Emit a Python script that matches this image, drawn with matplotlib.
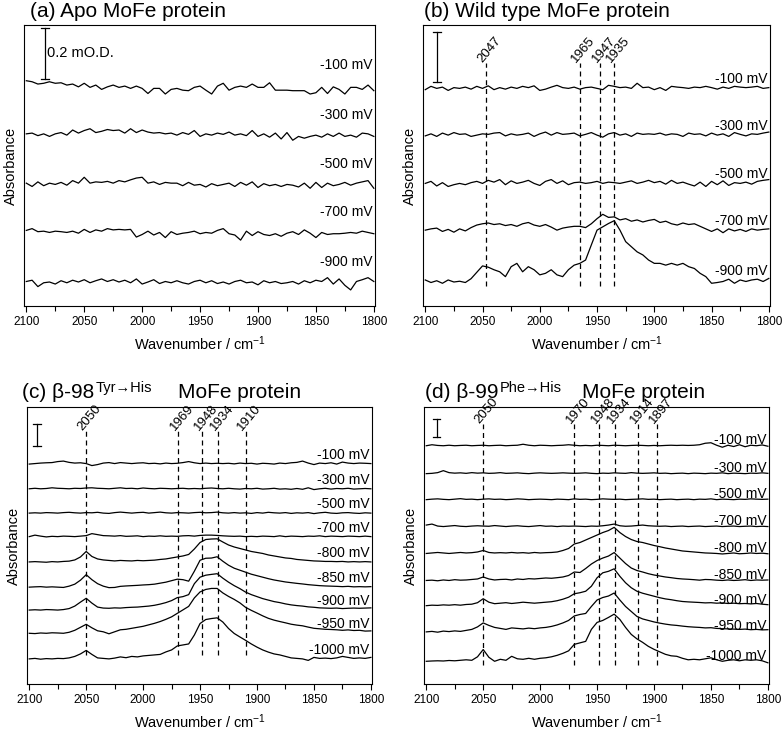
# IR difference spectra of MoFe proteins at several potentials (4 panels)

import numpy as np
import matplotlib
matplotlib.use('Agg')
import matplotlib.pyplot as plt

plt.rcParams['font.family'] = ['Liberation Sans', 'DejaVu Sans']
plt.rcParams['mathtext.fontset'] = 'custom'
plt.rcParams['mathtext.rm'] = 'Liberation Sans'
plt.rcParams['mathtext.it'] = 'Liberation Sans:italic'

# wavenumber grid, cm-1 (values below are read every 5 cm-1, from 2100 to 1800)
wn = np.arange(2100, 1799, -5)

# ---- (a) Apo MoFe protein, absorbance change in uOD
a_m100 = [17, 13, 4, 7, 13, 7, 9, 0, 4, -7,
          7, -9, 0, -17, -7, 0, -9, -4, -13, -4,
          -13, -33, -13, -13, -35, -17, -13, -20, -22, -9,
          -4, -20, -35, -4, 7, -20, -9, -4, -9, 4,
          -9, -9, 9, -20, -20, -20, -22, -22, -22, -35,
          -30, -9, -33, -7, -17, -35, -9, -9, -17, 0,
          -22]
a_m300 = [5, 8, -2, 5, -5, 5, 10, 0, 20, 8,
          18, 25, 10, 15, 22, 18, 20, 8, 25, 10,
          20, 12, 8, 10, 5, 8, 0, 10, 3, 18,
          -5, 5, 0, 8, 3, 12, 0, 5, -2, 18,
          -5, 5, -8, 8, -15, 10, -20, -5, -12, -5,
          0, -8, 5, -5, 8, -5, 0, -8, 8, 5,
          -5]
a_m500 = [5, -8, 10, -5, 5, 0, 8, -3, 15, 5,
          28, 5, 10, 8, 12, 5, 15, 10, 18, 25,
          28, 5, 10, 0, 8, 5, 5, -5, 8, -3,
          0, -10, 3, -5, 0, 5, -8, 8, -3, 10,
          -12, 3, -5, 0, -8, 0, -3, -10, 5, -15,
          8, -12, 5, -5, 0, 8, -3, 5, 10, 15,
          -15]
a_m700 = [8, 15, 3, 5, 0, 5, 3, 0, 5, -3,
          12, 0, 10, 5, 15, 10, 12, 10, 12, -18,
          -8, 5, -10, 0, -20, 3, -8, -3, 0, 5,
          -5, 0, -3, 8, 15, -5, -10, -30, 5, -12,
          3, -8, -12, -5, -15, -3, 3, -8, 10, -3,
          -20, 0, -8, -5, -5, -3, 0, -3, 5, 0,
          -5]
a_m900 = [5, 10, -15, 0, 3, -5, 8, 0, 10, 3,
          12, 0, 8, 15, 5, 12, 3, 10, 0, 15,
          -5, 3, 12, -3, 5, 0, 8, 0, -5, 5,
          10, 0, 8, -3, 3, -5, 5, 10, 0, 3,
          -8, 8, 0, 5, -3, 0, 5, -5, 8, 0,
          10, 5, 20, -5, 15, -10, -28, 5, 12, 20,
          5]

# ---- (b) Wild type MoFe protein
b_m100 = [-5, 8, 0, 5, -8, 3, 0, 5, -3, 8,
          0, 10, -5, 3, -3, 5, 0, 8, 3, 10,
          -8, -3, 5, 12, 3, 0, 5, -3, 3, 5,
          0, -5, 12, 8, 3, 5, 0, 20, 3, 5,
          -5, 3, -8, 8, 5, 3, 0, 5, 3, 8,
          3, -3, 5, 0, 8, 5, 3, 5, 8, 0,
          3]
b_m300 = [-3, 5, -5, 8, 0, 10, 3, 5, -5, 0,
          5, 3, 8, 10, -3, 5, 0, 3, 8, -5,
          5, 12, 0, 10, 3, 5, 8, -3, 3, 10,
          0, -8, 5, 10, 0, 5, -5, 8, 3, 5,
          3, 8, 0, 5, 3, -5, 8, 3, 5, -3,
          8, 0, 5, -5, 10, 3, -3, 5, 3, 8,
          12]
b_m500 = [0, 8, -10, 3, -12, -5, 0, -5, 3, 8,
          0, 12, 5, 15, -5, 10, 0, 5, 12, 0,
          -8, 8, 15, 0, 10, -5, 3, 5, 0, 3,
          8, 0, 5, 3, 0, 5, 10, 0, 5, 12,
          3, 8, -3, 12, 0, 5, -3, -10, 5, -12,
          8, -5, 10, -8, 3, 0, 5, -3, 8, 12,
          15]
b_m700 = [0, 5, 8, -5, 3, -8, 5, -3, 10, 20,
          25, 28, 22, 25, 18, 22, 15, 25, 30, 20,
          15, 22, 12, 0, 8, 12, 15, 15, 10, 25,
          45, 62, 50, 52, 40, 45, 35, 40, 32, 38,
          42, 30, 35, 25, 20, 28, 22, 25, 15, 5,
          -5, 5, -10, 5, -3, 3, -5, 5, 0, 3,
          5]
b_m900 = [0, -10, -3, -13, 0, -8, -5, -10, 5, 30,
          55, 50, 40, 32, 13, 52, 65, 32, 52, 40,
          20, 26, 40, 20, 13, 40, 58, 65, 78, 137,
          195, 208, 221, 232, 195, 150, 130, 110, 98, 78,
          65, 65, 58, 65, 58, 65, 52, 45, 26, 13,
          -13, -10, -6, 3, -13, 0, -6, 0, 3, -6,
          6]

# ---- (c) beta-98 Tyr->His MoFe protein
c_m100 = [-5, 0, 5, 8, 10, 20, 25, 12, 5, 8,
          0, -20, -10, 5, 10, 0, 10, 5, 0, 5,
          8, 0, 3, -3, 5, 0, 3, 10, 20, 8,
          0, 5, 0, 3, 0, 3, -3, 5, 0, 3,
          -5, 3, 0, -5, 5, 0, 8, 12, 25, 5,
          -10, 5, 0, 8, -5, 15, 5, 0, 5, 3,
          0]
c_m300 = [0, 5, 0, 3, 10, 5, 3, 0, 5, 3,
          8, 10, 5, 3, 0, 5, 10, 3, 5, 0,
          8, 3, 0, 5, 3, 0, 3, 5, 0, 3,
          0, 5, 8, 3, 0, 5, 0, -3, 3, 0,
          5, -3, 0, 5, -3, 0, -5, 3, -5, 10,
          -8, 0, 5, -3, 3, 0, 5, -3, 0, 3,
          0]
c_m500 = [0, 3, 0, 5, 3, 0, 5, 8, 3, 0,
          5, 3, 8, 0, -3, 5, 10, 5, 0, 5,
          8, 0, 5, 10, 3, 0, 5, 3, 0, 5,
          8, 3, 5, 10, 3, 0, 5, 0, 3, -3,
          5, 0, 8, 3, 0, 5, -3, 3, 0, 5,
          -5, 3, 8, 0, -3, 3, 5, 0, -3, 3,
          0]
c_m700 = [0, 15, 5, -3, 3, 0, 5, 3, 0, 5,
          10, 30, 20, 10, 8, 5, 10, 3, 5, 8,
          0, 5, 3, 8, 3, 5, 3, 8, 10, 5,
          12, 15, 15, 12, 8, 5, 3, 5, 0, 3,
          0, 5, 3, 0, 8, 0, 5, 3, 0, 5,
          3, 8, 0, 5, 3, 0, 5, 3, 0, 5,
          0]
c_m800 = [0, 3, 0, -3, 3, 0, 5, 8, 20, 50,
          105, 55, 30, 20, 15, 10, 15, 12, 10, 15,
          12, 15, 18, 25, 30, 40, 50, 60, 75, 130,
          195, 225, 230, 232, 200, 170, 150, 135, 120, 105,
          95, 85, 70, 60, 50, 40, 35, 25, 20, 15,
          10, 8, 5, 5, 3, 5, 0, 3, 0, 3,
          0]
c_m850 = [0, 3, 5, 0, 3, 0, -3, 10, 30, 70,
          125, 75, 35, 10, -5, -3, 8, 12, 15, 18,
          22, 25, 30, 40, 50, 65, 80, 75, 60, 160,
          270, 290, 292, 305, 260, 220, 190, 170, 150, 130,
          115, 100, 85, 72, 62, 52, 45, 38, 32, 25,
          20, 15, 12, 10, 8, 5, 8, 3, 5, 3,
          5]
c_m900 = [0, 3, 0, 5, 3, 0, 5, 15, 40, 80,
          118, 70, 30, 20, 18, 22, 20, 25, 28, 30,
          35, 40, 48, 60, 75, 95, 125, 135, 155, 265,
          330, 350, 358, 365, 320, 280, 245, 215, 180, 155,
          135, 115, 100, 85, 75, 62, 52, 45, 40, 32,
          28, 22, 20, 18, 20, 15, 18, 20, 18, 20,
          22]
c_m950 = [0, -3, 3, 0, 5, 3, 0, 10, 30, 60,
          90, 55, 25, 15, -5, 15, 35, 40, 50, 60,
          70, 85, 100, 118, 140, 165, 200, 235, 270, 355,
          415, 440, 450, 450, 405, 370, 340, 305, 260, 230,
          203, 175, 150, 132, 118, 105, 91, 82, 75, 62,
          50, 45, 40, 38, 35, 30, 34, 28, 30, 22,
          24]
c_m1000 = [0, 5, -3, 3, 0, 5, 3, 10, 25, 50,
           85, 45, 10, 5, 0, 8, 20, 12, 25, 20,
           30, 35, 40, 45, 70, 90, 130, 140, 150, 240,
           355, 395, 405, 412, 370, 305, 255, 220, 186, 150,
           118, 90, 68, 50, 40, 25, 10, 5, 0, -15,
           15, 5, 8, 3, 10, 25, 15, 5, 10, 5,
           15]

# ---- (d) beta-99 Phe->His MoFe protein
d_m100 = [0, 10, 3, 0, 5, 0, 3, 5, 0, 3,
          5, 0, 3, 5, 0, 3, 5, 15, 5, 0,
          5, 3, 0, 3, 5, 10, 5, 0, 3, 0,
          5, 3, 0, 5, 3, 0, 3, 5, 3, 0,
          3, 0, 3, 5, 3, 5, 3, 5, 10, 25,
          30, 5, -15, 5, -8, 10, -10, 5, 0, 8,
          -5]
d_m300 = [0, 3, 10, 30, 10, 5, 8, 3, 10, 5,
          8, 3, 5, 10, 3, 5, 8, 3, 0, 5,
          8, 5, 3, 5, 8, 5, 3, 5, 8, 3,
          0, 5, 3, 8, 5, 3, 10, 5, 3, 5,
          8, 3, 5, 0, 3, 5, 0, 5, 3, 0,
          5, 3, 8, 0, 5, 3, 0, 5, 3, 8,
          3]
d_m500 = [0, 5, 8, 3, 0, 5, 10, 3, 5, 0,
          5, 8, 3, 5, 0, 3, 8, 5, 0, 3,
          5, 3, 0, 5, 3, 0, 8, 3, 5, 0,
          3, 8, 5, 3, 5, 0, 3, 5, 8, 3,
          5, 0, 3, 5, 0, 3, 5, 0, 5, 3,
          8, 0, 5, 3, 0, 5, 3, 8, 5, 3,
          5]
d_m700 = [15, 25, 5, 0, 5, 10, 3, 0, 5, 8,
          5, 3, 10, 5, 0, 5, 8, 3, 0, 5,
          10, 3, 5, 0, 5, 3, 5, 3, 0, 5,
          3, 8, 15, 25, 8, 3, 5, 10, 15, 8,
          5, 3, 5, 0, 3, 5, 0, 3, 5, 0,
          3, 5, 0, 3, 5, 0, 3, 5, 0, 3,
          0]
d_m800 = [0, 5, 10, 5, 0, 5, 10, 5, 8, 15,
          30, 10, 5, 8, 5, 10, 5, 8, 3, 10,
          5, 8, 10, 15, 30, 50, 95, 110, 135, 160,
          185, 210, 230, 262, 210, 170, 140, 120, 110, 95,
          80, 68, 55, 45, 35, 25, 20, 15, 10, 5,
          3, 0, -5, 0, 5, -3, 0, 5, 0, 3,
          -3]
d_m850 = [0, 3, -3, 5, 0, 8, 3, 5, 10, 15,
          35, 15, 5, 10, 12, 5, 15, 10, 18, 15,
          20, 25, 22, 28, 35, 50, 85, 80, 120, 165,
          200, 225, 245, 280, 225, 170, 125, 100, 85, 68,
          55, 45, 35, 28, 20, 15, 12, 8, 3, 10,
          8, 3, 0, 5, 0, 3, 8, 0, 5, 3,
          5]
d_m900 = [0, 5, 3, 8, 5, 10, 5, 12, 15, 30,
          70, 35, 20, 25, 30, 22, 28, 35, 30, 25,
          30, 35, 40, 50, 65, 85, 120, 130, 145, 195,
          280, 330, 345, 370, 295, 230, 180, 145, 125, 110,
          95, 80, 68, 60, 50, 42, 38, 35, 32, 28,
          30, 25, 28, 22, 25, 20, 22, 18, 22, 15,
          10]
d_m950 = [0, 5, -3, 8, 3, 10, 5, 15, 25, 50,
          90, 65, 45, 35, 25, 40, 35, 30, 38, 32,
          40, 45, 55, 70, 90, 115, 160, 175, 185, 255,
          320, 345, 360, 390, 320, 255, 205, 155, 130, 115,
          100, 88, 78, 70, 65, 58, 52, 48, 45, 40,
          42, 35, 32, 30, 28, 25, 28, 22, 25, 20,
          22]
d_m1000 = [0, 3, 5, 3, 8, 5, 10, 15, 10, 45,
           118, 40, 0, 20, 10, 50, 25, 20, 30, 20,
           30, 35, 45, 60, 80, 105, 170, 185, 200, 320,
           390, 410, 440, 473, 420, 340, 270, 225, 190, 150,
           120, 95, 70, 55, 50, 30, 15, 20, 15, 25,
           35, 15, 0, 10, 15, 5, 15, 10, 15, 5,
           -15]

labels_ab = ['-100 mV', '-300 mV', '-500 mV', '-700 mV', '-900 mV']
labels_cd = ['-100 mV', '-300 mV', '-500 mV', '-700 mV', '-800 mV',
             '-850 mV', '-900 mV', '-950 mV', '-1000 mV']

peaks_b = [2047, 1965, 1947, 1935]
peaks_c = [2050, 1969, 1948, 1934, 1910]
peaks_d = [2050, 1970, 1948, 1934, 1914, 1897]


def draw_panel(ax, traces, labels, base, label_dy, ytop, bar_x, bar_y, peaks=None, span=None):
    for y, b, lab in zip(traces, base, labels):
        ax.plot(wn, np.array(y) + b, color='black', lw=0.9)
        ax.text(1801, b + label_dy, lab, ha='right', va='center', fontsize=10)

    # scale bar
    ax.plot([bar_x, bar_x], bar_y, color='black', lw=0.9)
    for yy in bar_y:
        ax.plot([bar_x + 3.5, bar_x - 3.5], [yy, yy], color='black', lw=0.9)

    if peaks:
        for p in peaks:
            ax.plot([p, p], span, color='black', lw=0.9, dashes=(4, 3))
            ax.text(p + 3, span[1], str(p), rotation=50, rotation_mode='anchor',
                    ha='left', va='baseline', fontsize=9.5)

    ax.set_xlim(2102, 1799)
    ax.set_ylim(0, ytop)
    ax.set_xticks(range(2100, 1799, -50))
    ax.set_xticks(range(2075, 1800, -50), minor=True)
    ax.set_yticks([])
    ax.tick_params(axis='x', which='major', direction='out', length=4, width=0.8, labelsize=8.5)
    ax.tick_params(axis='x', which='minor', direction='out', length=3.5, width=0.8)
    for s in ax.spines.values():
        s.set_linewidth(0.8)
    ax.set_xlabel('Wavenumber / cm$^{-1}$', fontsize=10.5)
    ax.set_ylabel('Absorbance', fontsize=10.5)


fig = plt.figure(figsize=(7.84, 7.30), dpi=100)
W, H = 784.0, 730.0

ax_a = fig.add_axes([0.0306, 0.5808, 0.4477, 0.3849])
ax_b = fig.add_axes([0.5395, 0.5808, 0.4426, 0.3849])
ax_c = fig.add_axes([0.0344, 0.0630, 0.4401, 0.3795])
ax_d = fig.add_axes([0.5408, 0.0630, 0.4401, 0.3795])

draw_panel(ax_a, [a_m100, a_m300, a_m500, a_m700, a_m900], labels_ab,
           [865, 669, 476, 288, 91], 80, 1100, 2084, [887, 1087])
ax_a.text(2082, 989, '0.2 mO.D.', ha='left', va='center', fontsize=10.5)

draw_panel(ax_b, [b_m100, b_m300, b_m500, b_m700, b_m900], labels_ab,
           [852, 669, 480, 297, 102], 35, 1100, 2090, [876, 1074],
           peaks_b, [78, 950])

draw_panel(ax_c, [c_m100, c_m300, c_m500, c_m700, c_m800, c_m850, c_m900, c_m950, c_m1000],
           labels_cd, [2212, 1959, 1715, 1479, 1225, 972, 742, 509, 252], 90, 2780,
           2093, [2391, 2611], peaks_c, [296, 2537])

draw_panel(ax_d, [d_m100, d_m300, d_m500, d_m700, d_m800, d_m850, d_m900, d_m950, d_m1000],
           labels_cd, [2391, 2111, 1850, 1580, 1310, 1039, 786, 523, 228], 55, 2780,
           2091, [2476, 2662], peaks_d, [194, 2611])

fig.text(0.038, 0.9836, '(a) Apo MoFe protein', fontsize=15, va='center')
fig.text(0.541, 0.9836, '(b) Wild type MoFe protein', fontsize=15, va='center')

# titles with superscript mutation names
renderer = fig.canvas.get_renderer()


def sup_title(x_px, main, sup, rest_x_px):
    yb = 1 - 398.5 / H
    t = fig.text(x_px / W, yb, main, fontsize=15, va='baseline')
    x1 = t.get_window_extent(renderer).x1
    s = fig.text((x1 + 1) / W, yb + 6.5 / H, sup, fontsize=10.5, va='baseline')
    x2 = s.get_window_extent(renderer).x1
    fig.text(max(rest_x_px, x2 + 10) / W, yb, 'MoFe protein', fontsize=15, va='baseline')


sup_title(22, '(c) β-98', 'Tyr→His', 178)
sup_title(425, '(d) β-99', 'Phe→His', 582)

fig.savefig('out.png', dpi=100)
